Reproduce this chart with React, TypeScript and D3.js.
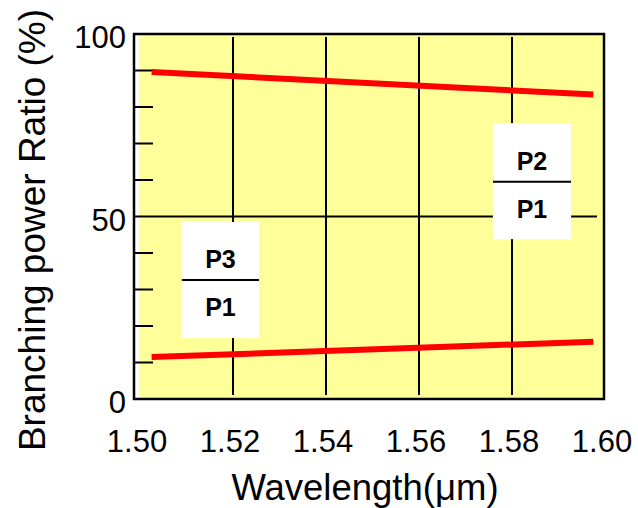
import React from "react";
import * as d3 from "d3";

const W = 638;
const H = 508;

const xTicks = [1.5, 1.52, 1.54, 1.56, 1.58, 1.6];
const xGrid = [1.52, 1.54, 1.56, 1.58];
const yLabels = [0, 50, 100];
const yMinor = [10, 20, 30, 40, 60, 70, 80, 90];

// P2/P1 (upper) and P3/P1 (lower) ratio lines
const p2Wavelength = [1.5025, 1.5975];
const p2Ratio = [89.6, 83.4];
const p3Wavelength = [1.5025, 1.5975];
const p3Ratio = [11.5, 15.7];

// annotation boxes (data coords)
const boxP3 = { x0: 1.509, x1: 1.5256, top: 48.5, bottom: 16.7, mid: 32.6, num: "P3", den: "P1" };
const boxP2 = { x0: 1.5759, x1: 1.5927, top: 75.6, bottom: 43.8, mid: 59.5, num: "P2", den: "P1" };

export default function App() {
  const left = 134;
  const right = 604;
  const top = 34;
  const bottom = 399;
  const x = d3.scaleLinear().domain([1.5, 1.6]).range([140, 605]);
  const y = d3.scaleLinear().domain([0, 100]).range([bottom, top]);
  const line = d3
    .line<[number, number]>()
    .x((d) => x(d[0]))
    .y((d) => y(d[1]));
  const p2 = p2Wavelength.map((w, i) => [w, p2Ratio[i]] as [number, number]);
  const p3 = p3Wavelength.map((w, i) => [w, p3Ratio[i]] as [number, number]);
  const font = "'Liberation Sans', Arial, sans-serif";

  const box = (b: typeof boxP3) => {
    const bx0 = x(b.x0);
    const bx1 = x(b.x1);
    const cx = (bx0 + bx1) / 2;
    const ym = y(b.mid);
    return (
      <g key={b.num}>
        <rect x={bx0} y={y(b.top)} width={bx1 - bx0} height={y(b.bottom) - y(b.top)} fill="#fff" />
        <line x1={bx0} x2={bx1} y1={ym} y2={ym} stroke="#000" strokeWidth={2} />
        <text x={cx} y={ym - 12} textAnchor="middle" fontFamily={font} fontWeight="bold" fontSize={25}>
          {b.num}
        </text>
        <text x={cx} y={ym + 36} textAnchor="middle" fontFamily={font} fontWeight="bold" fontSize={25}>
          {b.den}
        </text>
      </g>
    );
  };

  return (
    <svg width={W} height={H} style={{ position: "absolute", left: 0, top: 0, background: "#fff" }}>
      <rect x={139} y={top} width={right - 139} height={bottom - top} fill="#FFFF99" />
      {xGrid.map((v) => (
        <line key={v} x1={x(v)} x2={x(v)} y1={top + 3} y2={bottom - 4} stroke="#000" strokeWidth={2} />
      ))}
      <line x1={left} x2={597} y1={y(50)} y2={y(50)} stroke="#000" strokeWidth={2} />
      {yMinor.map((v) => (
        <line key={v} x1={left} x2={153} y1={y(v)} y2={y(v)} stroke="#000" strokeWidth={2} />
      ))}
      {box(boxP3)}
      {box(boxP2)}
      <path d={line(p2) || ""} stroke="#FF0000" strokeWidth={6} fill="none" />
      <path d={line(p3) || ""} stroke="#FF0000" strokeWidth={6} fill="none" />
      <rect x={left} y={top} width={right - left} height={bottom - top} fill="none" stroke="#000" strokeWidth={2.5} />
      {yLabels.map((v) => (
        <text key={v} x={126} y={y(v) + 3} dy="0.36em" textAnchor="end" fontFamily={font} fontSize={31}>
          {v}
        </text>
      ))}
      {xTicks.map((v) => (
        <text key={v} x={x(v) - 3} y={452} textAnchor="middle" fontFamily={font} fontSize={31}>
          {v.toFixed(2)}
        </text>
      ))}
      <text x={365} y={500} textAnchor="middle" fontFamily={font} fontSize={36.5}>
        Wavelength(μm)
      </text>
      <text
        transform="translate(45,230) rotate(-90)"
        textAnchor="middle"
        fontFamily={font}
        fontSize={37}
      >
        Branching power Ratio (%)
      </text>
    </svg>
  );
}
